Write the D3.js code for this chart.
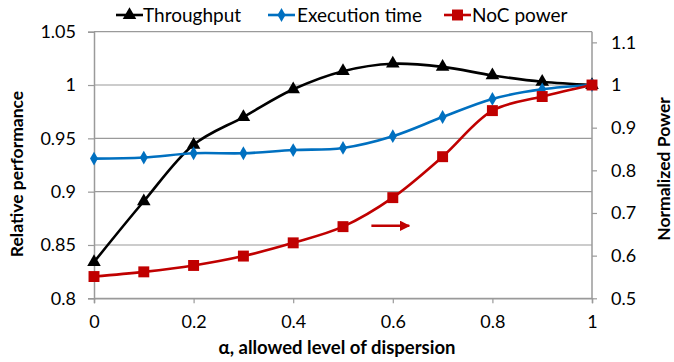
<!DOCTYPE html>
<html>
<head>
<meta charset="utf-8">
<script src="https://cdn.jsdelivr.net/npm/d3@7"></script>
<style>
  body { margin: 0; background: #fff; }
  svg text { font-family: Lato, "Liberation Sans", sans-serif; fill: #000; }
</style>
</head>
<body>
<div id="chart"></div>
<script>
// alpha values on the x axis
var alphas = [0, 0.1, 0.2, 0.3, 0.4, 0.5, 0.6, 0.7, 0.8, 0.9, 1];
// relative performance (left axis)
var throughput = [0.834, 0.891, 0.944, 0.970, 0.996, 1.013, 1.020, 1.017, 1.009, 1.003, 1.0];
var execTime   = [0.931, 0.932, 0.936, 0.936, 0.939, 0.941, 0.952, 0.970, 0.987, 0.996, 1.0];
// normalized power (right axis)
var nocPower   = [0.551, 0.562, 0.577, 0.599, 0.630, 0.668, 0.736, 0.832, 0.940, 0.973, 1.0];

var xTicks = [0, 0.2, 0.4, 0.6, 0.8, 1];
var leftTicks = [0.8, 0.85, 0.9, 0.95, 1, 1.05];
var rightTicks = [0.5, 0.6, 0.7, 0.8, 0.9, 1, 1.1];

var width = 674, height = 362;
var margin = { top: 31.7, right: 82, bottom: 63.7, left: 94 };
var w = width - margin.left - margin.right,
    h = height - margin.top - margin.bottom;

var svg = d3.select("#chart").append("svg")
  .attr("width", width)
  .attr("height", height);

var g = svg.append("g")
  .attr("transform", "translate(" + margin.left + "," + margin.top + ")");

var xScale = d3.scaleLinear().domain([0, 1]).range([0, w]);
var yLeft = d3.scaleLinear().domain([0.8, 1.05]).range([h, 0]);
var yRight = d3.scaleLinear().domain([0.5, 1.125]).range([h, 0]);

var axisColor = "#9a9a9a";

// horizontal gridlines
g.selectAll(".grid")
  .data(leftTicks)
  .enter().append("line")
  .attr("class", "grid")
  .attr("x1", 0).attr("x2", w)
  .attr("y1", function(d){ return yLeft(d); })
  .attr("y2", function(d){ return yLeft(d); })
  .attr("stroke", axisColor)
  .attr("stroke-width", 1.2);

function styleAxis(sel) {
  sel.select(".domain").attr("stroke", axisColor).attr("stroke-width", 1.5);
  sel.selectAll(".tick line").attr("stroke", axisColor).attr("stroke-width", 1.2);
  sel.selectAll(".tick text").style("font-size", "18px").attr("fill", "#000");
}

var xAxis = g.append("g")
  .attr("transform", "translate(0," + h + ")")
  .call(d3.axisBottom(xScale).tickValues(xTicks).tickSize(5).tickPadding(12)
    .tickFormat(function(d){ return String(d); }));
styleAxis(xAxis);

var leftAxis = g.append("g")
  .call(d3.axisLeft(yLeft).tickValues(leftTicks).tickSize(6).tickPadding(12)
    .tickFormat(function(d){ return String(+d.toFixed(2)); }));
styleAxis(leftAxis);

var rightAxis = g.append("g")
  .attr("transform", "translate(" + w + ",0)")
  .call(d3.axisRight(yRight).tickValues(rightTicks).tickSize(5).tickPadding(14)
    .tickFormat(function(d){ return String(+d.toFixed(1)); }));
styleAxis(rightAxis);
rightAxis.select(".domain").attr("d", "M0," + h + "V0");

// axis titles
svg.append("text")
  .attr("transform", "translate(23,174) rotate(-90)")
  .attr("text-anchor", "middle")
  .style("font-size", "17.5px").style("font-weight", "bold")
  .text("Relative performance");

svg.append("text")
  .attr("transform", "translate(670,169) rotate(-90)")
  .attr("text-anchor", "middle")
  .style("font-size", "17.5px").style("font-weight", "bold")
  .text("Normalized Power");

svg.append("text")
  .attr("x", 337).attr("y", 354)
  .attr("text-anchor", "middle")
  .style("font-size", "18.5px").style("font-weight", "bold")
  .text("α, allowed level of dispersion");

var series = [
  { name: "Throughput", values: throughput, y: yLeft, color: "#000000", marker: d3.symbolTriangle, size: 80 },
  { name: "Execution time", values: execTime, y: yLeft, color: "#0070C0", marker: d3.symbolDiamond, size: 55 },
  { name: "NoC power", values: nocPower, y: yRight, color: "#C00000", marker: d3.symbolSquare, size: 120 }
];

series.forEach(function(s){
  var line = d3.line()
    .x(function(d, i){ return xScale(alphas[i]); })
    .y(function(d){ return s.y(d); })
    .curve(d3.curveCatmullRom.alpha(0.5));

  g.append("path")
    .datum(s.values)
    .attr("fill", "none")
    .attr("stroke", s.color)
    .attr("stroke-width", 2.6)
    .attr("d", line);

  g.selectAll(".m-" + s.name.replace(/\s/g, ""))
    .data(s.values)
    .enter().append("path")
    .attr("d", d3.symbol().type(s.marker).size(s.size))
    .attr("transform", function(d, i){ return "translate(" + xScale(alphas[i]) + "," + s.y(d) + ")"; })
    .attr("fill", s.color);
});

// arrow pointing to the right axis
var defs = svg.append("defs");
defs.append("marker")
  .attr("id", "arrowhead")
  .attr("viewBox", "0 0 10 10")
  .attr("refX", 9).attr("refY", 5)
  .attr("markerWidth", 4).attr("markerHeight", 4)
  .attr("orient", "auto")
  .append("path")
  .attr("d", "M0,0L10,5L0,10z")
  .attr("fill", "#C00000");

g.append("line")
  .attr("x1", xScale(0.557)).attr("x2", xScale(0.633))
  .attr("y1", yLeft(0.868)).attr("y2", yLeft(0.868))
  .attr("stroke", "#C00000")
  .attr("stroke-width", 2.6)
  .attr("marker-end", "url(#arrowhead)");

// legend
var legendItems = [
  { s: series[0], lx: 116, tx: 143 },
  { s: series[1], lx: 268, tx: 297 },
  { s: series[2], lx: 444, tx: 472 }
];
var legend = svg.append("g");
legendItems.forEach(function(it){
  var ly = 15;
  legend.append("line")
    .attr("x1", it.lx).attr("x2", it.lx + 27)
    .attr("y1", ly).attr("y2", ly)
    .attr("stroke", it.s.color).attr("stroke-width", 2.6);
  legend.append("path")
    .attr("d", d3.symbol().type(it.s.marker).size(it.s.size))
    .attr("transform", "translate(" + (it.lx + 13.5) + "," + ly + ")")
    .attr("fill", it.s.color);
  legend.append("text")
    .attr("x", it.tx).attr("y", ly + 6.5)
    .style("font-size", "19px")
    .text(it.s.name);
});
</script>
</body>
</html>
